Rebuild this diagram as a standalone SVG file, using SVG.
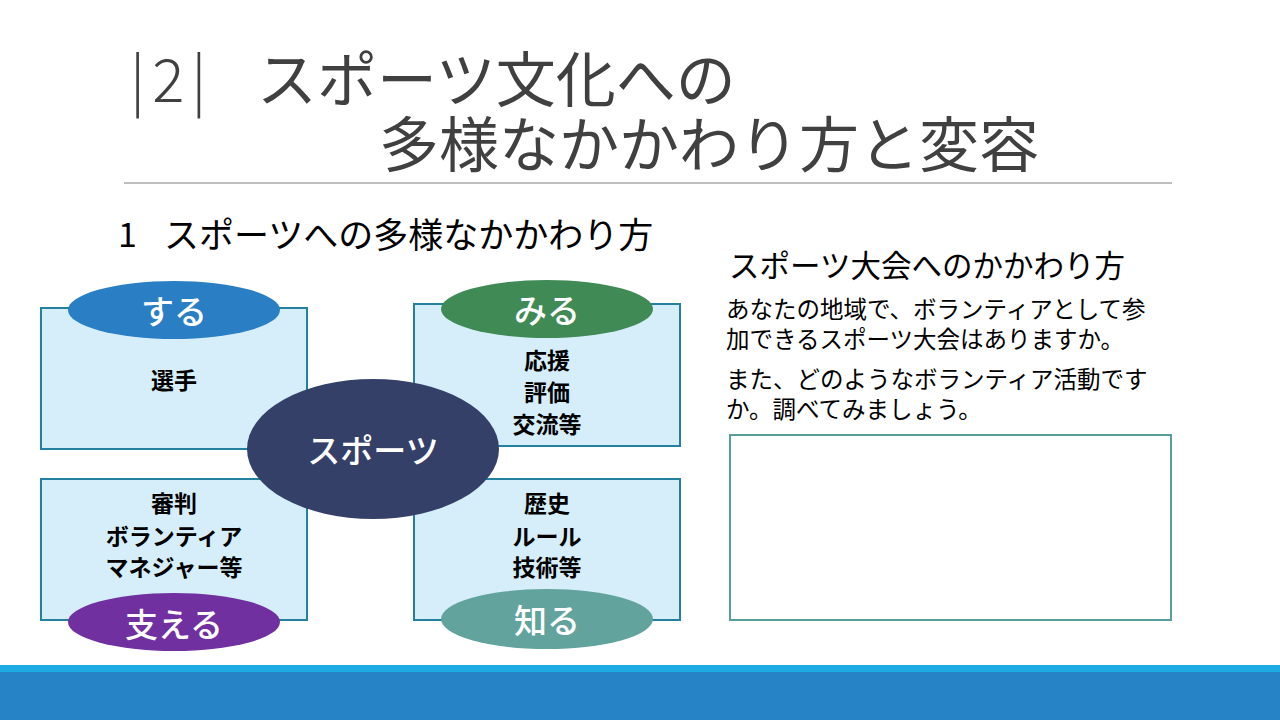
<svg xmlns="http://www.w3.org/2000/svg" width="1280" height="720" viewBox="0 0 1280 720">
<style>
  .jp { font-family: "Noto Sans CJK JP", "Noto Sans", sans-serif; }
  .title { font-size: 60px; fill: #404040; }
  .box { fill: #d5eef9; stroke: #23809f; stroke-width: 2; }
  .item { font-size: 23px; font-weight: bold; fill: #000; text-anchor: middle; dominant-baseline: central; }
  .lbl { font-size: 33px; font-weight: 500; fill: #fff; text-anchor: middle; dominant-baseline: central; }
  .body { font-size: 23.5px; fill: #000; dominant-baseline: central; }
</style>
<rect width="1280" height="720" fill="#ffffff"/>

<g id="title">
  <text class="jp title" x="130" y="75" dominant-baseline="central" font-weight="200" letter-spacing="7">|2|</text>
  <text class="jp title" x="257" y="75" dominant-baseline="central">スポーツ文化への</text>
  <text class="jp title" x="379" y="140" dominant-baseline="central">多様なかかわり方と変容</text>
  <line x1="124" y1="183" x2="1172" y2="183" stroke="#7f7f7f" stroke-width="1.2"/>
</g>

<g id="subtitle">
  <text class="jp" x="118" y="232" font-size="34" fill="#000" dominant-baseline="central">1</text>
  <text class="jp" x="164" y="232" font-size="35" fill="#000" dominant-baseline="central">スポーツへの多様なかかわり方</text>
</g>

<g id="node-suru">
  <rect class="box" x="41" y="308" width="266" height="141"/>
  <ellipse cx="174" cy="310" rx="106" ry="29" fill="#2a7fc4"/>
  <text class="jp lbl" x="174" y="310">する</text>
  <text class="jp item" x="174" y="379">選手</text>
</g>

<g id="node-miru">
  <rect class="box" x="414" y="304" width="266" height="142"/>
  <ellipse cx="547" cy="309" rx="106" ry="29" fill="#3f8a55"/>
  <text class="jp lbl" x="547" y="309">みる</text>
  <text class="jp item" x="547" y="359">応援</text>
  <text class="jp item" x="547" y="391">評価</text>
  <text class="jp item" x="547" y="423">交流等</text>
</g>

<g id="node-sasaeru">
  <rect class="box" x="41" y="479" width="266" height="141"/>
  <ellipse cx="174" cy="622" rx="106" ry="29" fill="#7030a0"/>
  <text class="jp lbl" x="174" y="623">支える</text>
  <text class="jp item" x="174" y="502">審判</text>
  <text class="jp item" x="174" y="535">ボランティア</text>
  <text class="jp item" x="174" y="566">マネジャー等</text>
</g>

<g id="node-shiru">
  <rect class="box" x="414" y="479" width="266" height="141"/>
  <ellipse cx="547" cy="619" rx="106" ry="30" fill="#62a39e"/>
  <text class="jp lbl" x="547" y="619">知る</text>
  <text class="jp item" x="547" y="502">歴史</text>
  <text class="jp item" x="547" y="535">ルール</text>
  <text class="jp item" x="547" y="566">技術等</text>
</g>

<g id="node-sports">
  <ellipse cx="373" cy="449" rx="126" ry="70" fill="#354068"/>
  <text class="jp lbl" x="373" y="449" font-size="34">スポーツ</text>
</g>

<g id="connectors"></g>

<g id="right-panel">
  <text class="jp" x="729" y="264" font-size="30.5" fill="#000" dominant-baseline="central">スポーツ大会へのかかわり方</text>
  <text class="jp body" x="726" y="308">あなたの地域で、ボランティアとして参</text>
  <text class="jp body" x="726" y="338">加できるスポーツ大会はありますか。</text>
  <text class="jp body" x="726" y="378">また、どのようなボランティア活動です</text>
  <text class="jp body" x="726" y="408">か。調べてみましょう。</text>
  <rect x="730" y="435" width="441" height="185" fill="#ffffff" stroke="#5a9e9c" stroke-width="2"/>
</g>

<g id="footer">
  <rect x="0" y="665" width="1280" height="8" fill="#1eaae2"/>
  <rect x="0" y="672" width="1280" height="48" fill="#2683c6"/>
</g>
</svg>
